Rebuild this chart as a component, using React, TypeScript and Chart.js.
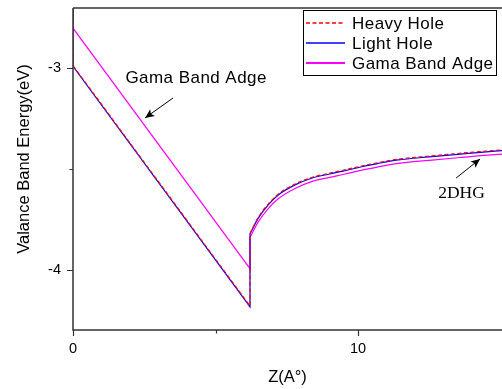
import { useEffect, useRef } from "react";
import { Chart, registerables } from "chart.js";

Chart.register(...registerables);

// ---- data (Z in Å, energy in eV) ----
const LH_Z = [0, 0, 6.21, 6.21, 6.5, 6.85, 7.2, 7.79, 8.37, 8.96, 9.54, 10.13, 10.71, 11.41, 12.5, 13.5, 14.3, 15.05];
const LH_E = [-2.6, -2.99, -4.185, -3.823, -3.744, -3.678, -3.629, -3.579, -3.546, -3.526, -3.508, -3.489, -3.472, -3.455, -3.44, -3.427, -3.417, -3.409];

const HH_Z = [0, 0, 6.21, 6.21, 6.5, 6.85, 7.2, 7.79, 8.37, 8.96, 9.54, 10.13, 10.71, 11.41, 12.5, 13.5, 14.3, 15.05];
const HH_E = [-2.6, -2.986, -4.181, -3.819, -3.74, -3.674, -3.625, -3.575, -3.542, -3.522, -3.504, -3.485, -3.468, -3.451, -3.436, -3.423, -3.413, -3.405];

const GB_Z = [0, 6.21, 6.21, 6.5, 6.85, 7.2, 7.79, 8.37, 8.96, 9.54, 10.13, 10.71, 11.41, 12.5, 13.5, 14.3, 15.05];
const GB_E = [-2.8, -3.995, -3.84, -3.763, -3.697, -3.648, -3.597, -3.563, -3.543, -3.525, -3.506, -3.489, -3.472, -3.457, -3.444, -3.434, -3.426];

const SERIES_LABELS = ["Heavy Hole", "Light Hole", "Gama Band Adge"];
const SERIES_COLORS = ["#ff0000", "#0000ff", "#ff00ff"];

const X_TICKS = [0, 10];
const X_MINOR = [5];
const Y_TICKS = [-3, -4];
const Y_MINOR = [-3.5];

const X_TITLE = "Z(A°)";
const Y_TITLE = "Valance Band Energy(eV)";

// annotations in data units
const GAMA_NOTE = { text: "Gama Band Adge", z: 4.32, e: -3.048, tz: 3.51, te: -3.147, hz: 2.53, he: -3.246 };
const HG_NOTE = { text: "2DHG", z: 13.63, e: -3.619, tz: 13.44, te: -3.545, hz: 14.28, he: -3.45 };

const SANS = "'Liberation Sans', Arial, Helvetica, sans-serif";
const SERIF = "'Liberation Serif', 'Times New Roman', serif";
const AXIS = "#333333";

const toPts = (zs: number[], es: number[]) => zs.map((z, i) => ({ x: z, y: es[i] }));

// index where the smooth (post-jump) part begins: the second point at the jump position
const jumpIndex = (zs: number[]) => {
  for (let i = zs.length - 1; i > 0; i--) if (zs[i] === zs[i - 1] && zs[i] > 0) return i;
  return 0;
};

function arrow(ctx: CanvasRenderingContext2D, x1: number, y1: number, x2: number, y2: number) {
  ctx.beginPath();
  ctx.moveTo(x1, y1);
  ctx.lineTo(x2, y2);
  ctx.stroke();
  const ang = Math.atan2(y2 - y1, x2 - x1);
  const L = 10, W = 0.42;
  ctx.beginPath();
  ctx.moveTo(x2, y2);
  ctx.lineTo(x2 - L * Math.cos(ang - W), y2 - L * Math.sin(ang - W));
  ctx.lineTo(x2 - L * 0.7 * Math.cos(ang), y2 - L * 0.7 * Math.sin(ang));
  ctx.lineTo(x2 - L * Math.cos(ang + W), y2 - L * Math.sin(ang + W));
  ctx.closePath();
  ctx.fill();
}

const overlay = {
  id: "overlay",
  afterDraw(chart: any) {
    const { ctx, chartArea: a, scales } = chart;
    const xs = scales.x;
    const ys = scales.y;
    ctx.save();
    ctx.strokeStyle = AXIS;
    ctx.lineWidth = 1.5;
    ctx.beginPath();
    ctx.moveTo(a.left, a.top);
    ctx.lineTo(a.right, a.top);
    ctx.moveTo(a.left, a.top);
    ctx.lineTo(a.left, a.bottom);
    ctx.lineTo(a.right, a.bottom);
    ctx.stroke();

    // ticks
    ctx.lineWidth = 1.2;
    ctx.beginPath();
    X_TICKS.forEach((v) => {
      const p = Math.round(xs.getPixelForValue(v)) + 0.5;
      ctx.moveTo(p, a.bottom);
      ctx.lineTo(p, a.bottom + 6);
    });
    X_MINOR.forEach((v) => {
      const p = Math.round(xs.getPixelForValue(v)) + 0.5;
      ctx.moveTo(p, a.bottom);
      ctx.lineTo(p, a.bottom + 3.5);
    });
    Y_TICKS.forEach((v) => {
      const p = Math.round(ys.getPixelForValue(v)) + 0.5;
      ctx.moveTo(a.left, p);
      ctx.lineTo(a.left - 6, p);
    });
    Y_MINOR.forEach((v) => {
      const p = Math.round(ys.getPixelForValue(v)) + 0.5;
      ctx.moveTo(a.left, p);
      ctx.lineTo(a.left - 3.5, p);
    });
    ctx.stroke();

    // axis titles
    ctx.fillStyle = "#000";
    ctx.font = `16.5px ${SANS}`;
    ctx.textAlign = "center";
    ctx.textBaseline = "middle";
    ctx.fillText(X_TITLE, (a.left + a.right) / 2, 377);
    ctx.save();
    ctx.translate(24, 159);
    ctx.rotate(-Math.PI / 2);
    ctx.fillText(Y_TITLE, 0, 0);
    ctx.restore();

    // legend
    const bx = 303.5, by = 10.5, bw = 193, bh = 65;
    ctx.fillStyle = "#fff";
    ctx.fillRect(bx, by, bw, bh);
    ctx.strokeStyle = "#000";
    ctx.lineWidth = 1;
    ctx.strokeRect(bx, by, bw, bh);
    SERIES_LABELS.forEach((label, i) => {
      const yy = 23 + i * 20;
      ctx.save();
      ctx.strokeStyle = SERIES_COLORS[i];
      ctx.lineWidth = i === 2 ? 2 : 1.3;
      ctx.setLineDash(i === 0 ? [4, 2.5] : []);
      ctx.beginPath();
      ctx.moveTo(306, yy);
      ctx.lineTo(345, yy);
      ctx.stroke();
      ctx.restore();
      ctx.save();
      ctx.fillStyle = "#000";
      ctx.font = `17px ${SANS}`;
      (ctx as any).letterSpacing = "0.45px";
      ctx.textAlign = "left";
      ctx.textBaseline = "middle";
      ctx.fillText(label, 352, yy + 1);
      ctx.restore();
    });

    // annotations
    ctx.fillStyle = "#000";
    ctx.strokeStyle = "#000";
    ctx.lineWidth = 1;
    ctx.textAlign = "center";
    ctx.textBaseline = "middle";
    ctx.save();
    ctx.font = `17px ${SANS}`;
    (ctx as any).letterSpacing = "0.45px";
    ctx.fillText(GAMA_NOTE.text, xs.getPixelForValue(GAMA_NOTE.z), ys.getPixelForValue(GAMA_NOTE.e));
    ctx.restore();
    arrow(ctx, xs.getPixelForValue(GAMA_NOTE.tz), ys.getPixelForValue(GAMA_NOTE.te), xs.getPixelForValue(GAMA_NOTE.hz), ys.getPixelForValue(GAMA_NOTE.he));
    ctx.font = `17.5px ${SERIF}`;
    ctx.fillText(HG_NOTE.text, xs.getPixelForValue(HG_NOTE.z), ys.getPixelForValue(HG_NOTE.e));
    arrow(ctx, xs.getPixelForValue(HG_NOTE.tz), ys.getPixelForValue(HG_NOTE.te), xs.getPixelForValue(HG_NOTE.hz), ys.getPixelForValue(HG_NOTE.he));
    ctx.restore();
  },
};

function seriesDatasets(zs: number[], es: number[], color: string, dash: number[], label: string) {
  const pts = toPts(zs, es);
  const j = jumpIndex(zs);
  const base = {
    borderColor: color,
    borderWidth: 1.2,
    borderDash: dash,
    pointRadius: 0,
    fill: false,
  };
  return [
    { ...base, label, data: pts.slice(0, j + 1), tension: 0 },
    { ...base, label: label + " ", data: pts.slice(j), cubicInterpolationMode: "monotone" as const },
  ];
}

export default function App() {
  const ref = useRef<HTMLCanvasElement | null>(null);
  useEffect(() => {
    if (!ref.current) return;
    const chart = new Chart(ref.current, {
      type: "line",
      data: {
        datasets: [
          ...seriesDatasets(HH_Z, HH_E, SERIES_COLORS[0], [4, 2.5], SERIES_LABELS[0]),
          ...seriesDatasets(LH_Z, LH_E, SERIES_COLORS[1], [], SERIES_LABELS[1]),
          ...seriesDatasets(GB_Z, GB_E, SERIES_COLORS[2], [], SERIES_LABELS[2]),
        ] as any,
      },
      options: {
        animation: false,
        responsive: false,
        devicePixelRatio: 1,
        layout: { padding: { top: 8, right: 0, left: 0, bottom: 0 } },
        plugins: { legend: { display: false }, tooltip: { enabled: false } },
        scales: {
          x: {
            type: "linear",
            min: 0,
            max: 15.05,
            grid: { display: false, drawTicks: false },
            border: { display: false },
            afterBuildTicks: (s: any) => {
              s.ticks = X_TICKS.map((value) => ({ value }));
            },
            afterFit: (s: any) => {
              s.height = 59;
              s.paddingLeft = 0;
              s.paddingRight = 0;
            },
            ticks: {
              padding: 10,
              color: "#000",
              font: { family: SANS, size: 14.5 },
              callback: (v: any) => String(v),
              maxRotation: 0,
            },
          },
          y: {
            type: "linear",
            min: -4.3,
            max: -2.7,
            grid: { display: false, drawTicks: false },
            border: { display: false },
            afterBuildTicks: (s: any) => {
              s.ticks = Y_TICKS.map((value) => ({ value }));
            },
            afterFit: (s: any) => {
              s.width = 73;
              s.paddingTop = 0;
              s.paddingBottom = 0;
            },
            ticks: {
              padding: 12,
              color: "#000",
              font: { family: SANS, size: 14.5 },
              callback: (v: any) => String(v),
            },
          },
        },
      },
      plugins: [overlay],
    });
    return () => chart.destroy();
  }, []);
  return (
    <div style={{ position: "absolute", left: 0, top: 0, width: 502, height: 389, background: "#fff" }}>
      <canvas ref={ref} width={502} height={389} style={{ width: 502, height: 389 }} />
    </div>
  );
}
